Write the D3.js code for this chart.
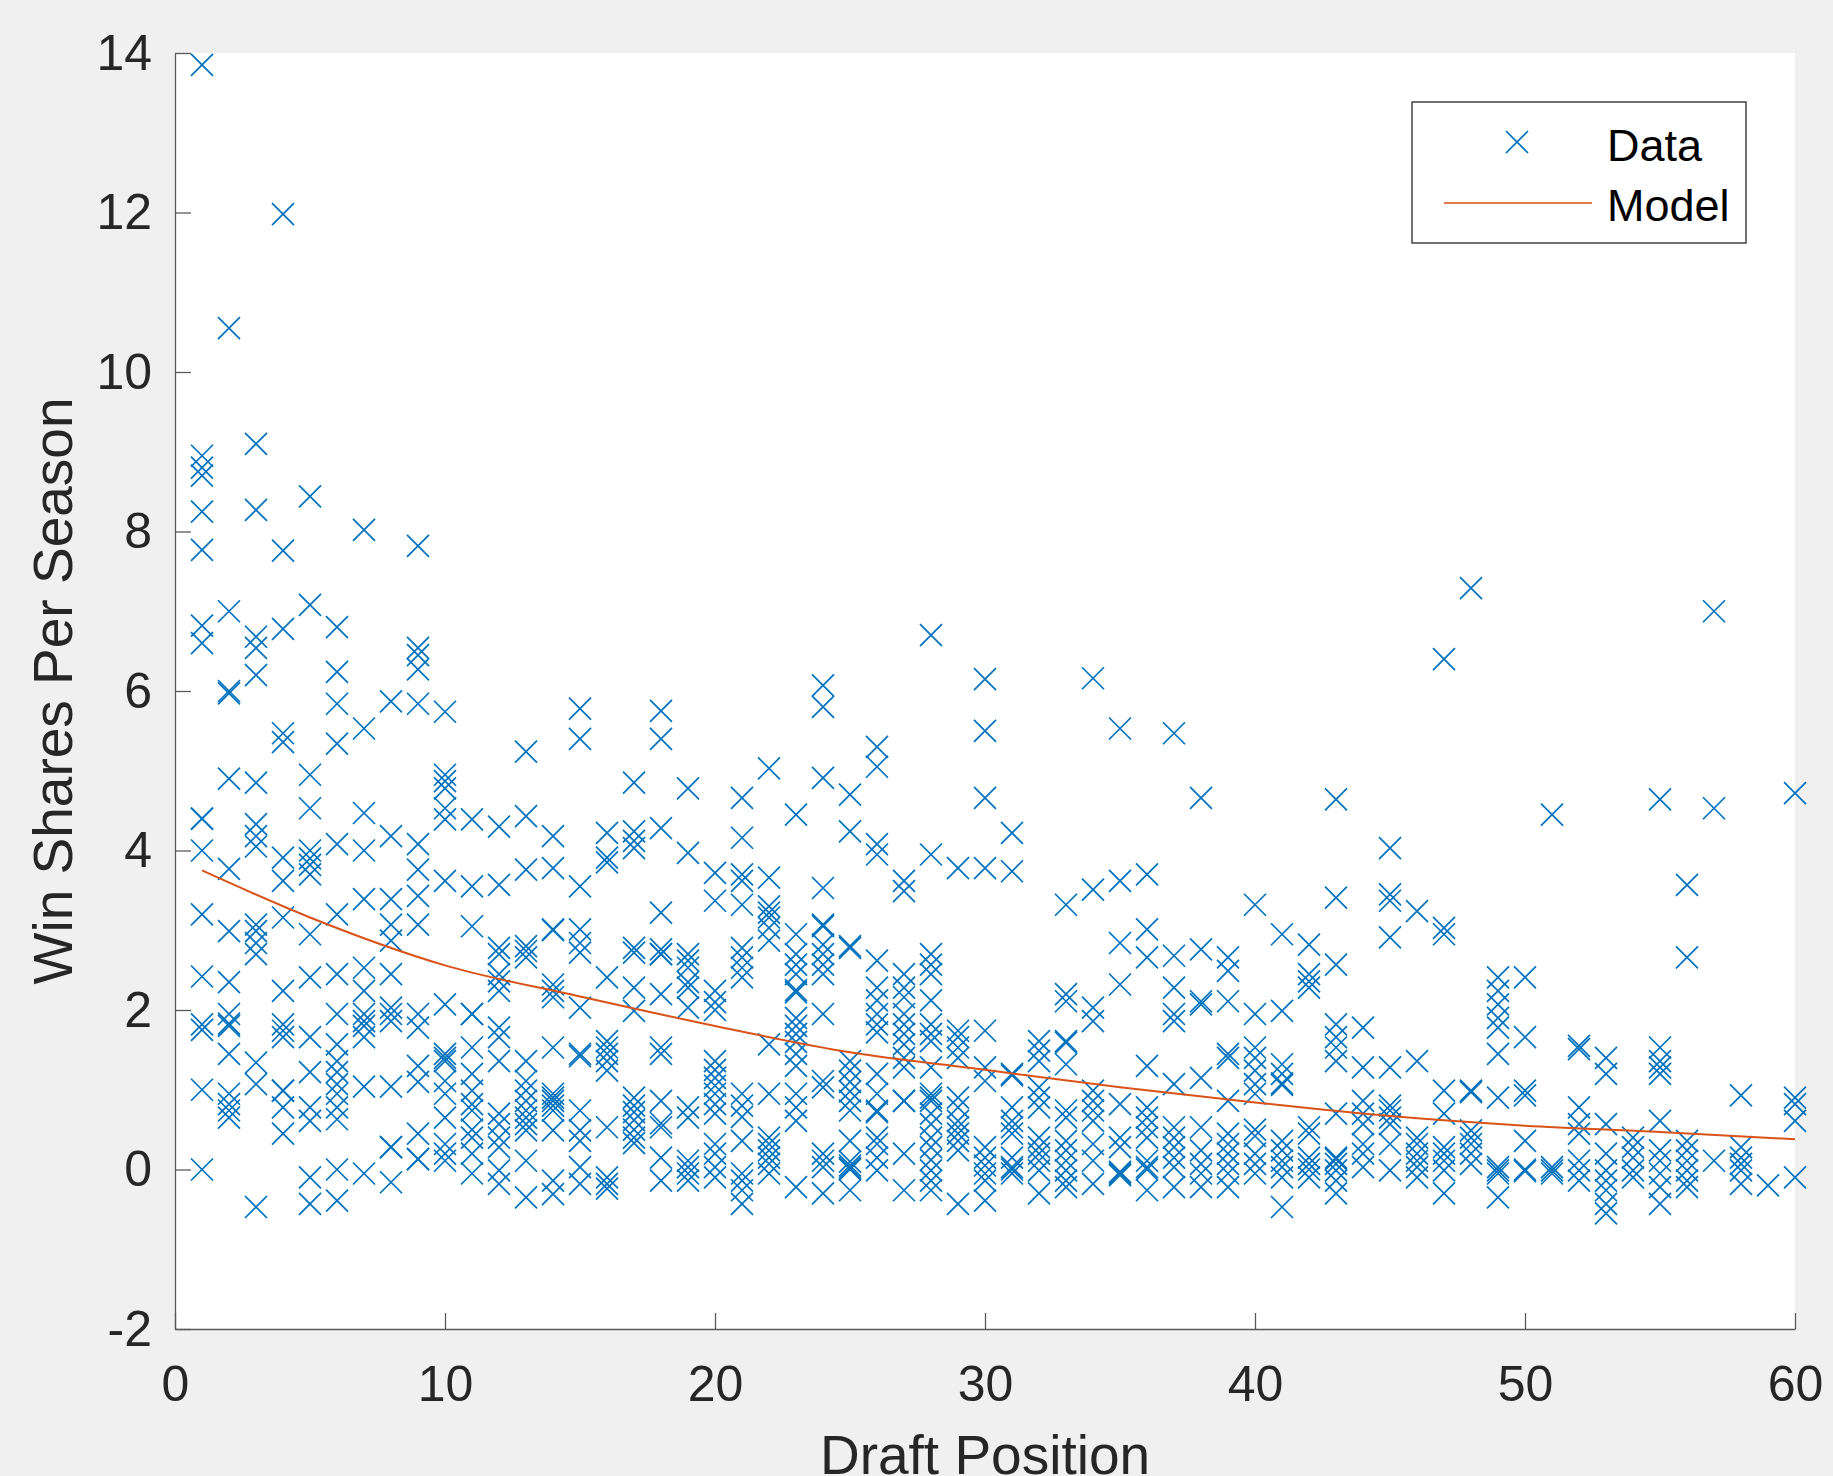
<!DOCTYPE html>
<html>
<head>
<meta charset="utf-8">
<script src="https://cdn.jsdelivr.net/npm/d3@7"></script>
<style>
  html, body { margin: 0; padding: 0; background: #f0f0f0; }
  svg { display: block; }
  text { font-family: "Liberation Sans", Arial, Helvetica, sans-serif; }
</style>
</head>
<body>
<div id="chart"></div>
<script>
// win shares per season, one list per draft pick
const picks1to10 = [
  [13.85, 8.95, 8.8, 8.7, 8.25, 7.77, 6.82, 6.6, 4.4, 4.4, 4.0, 3.2, 2.42, 1.82, 1.75, 1.0, 0.0],
  [10.55, 7.0, 6.0, 5.97, 4.9, 3.77, 2.99, 2.35, 1.95, 1.83, 1.8, 1.45, 0.95, 0.82, 0.74, 0.65],
  [9.1, 8.27, 6.68, 6.54, 6.2, 4.85, 4.33, 4.18, 4.05, 3.07, 2.99, 2.84, 2.7, 1.34, 1.07, -0.47],
  [11.98, 7.76, 6.78, 5.47, 5.36, 3.91, 3.62, 3.16, 2.24, 1.82, 1.74, 1.66, 0.99, 0.99, 0.78, 0.45],
  [8.44, 7.08, 4.95, 4.53, 4.0, 3.9, 3.82, 3.7, 2.95, 2.41, 1.66, 1.22, 0.78, 0.61, -0.1, -0.43],
  [6.8, 6.24, 5.84, 5.34, 4.08, 3.2, 2.45, 1.95, 1.57, 1.36, 1.22, 1.07, 0.95, 0.78, 0.63, 0.0, -0.39],
  [8.02, 5.53, 4.47, 4.0, 3.39, 2.53, 2.24, 1.95, 1.86, 1.8, 1.66, 1.04, -0.05],
  [5.87, 4.18, 3.39, 3.07, 2.87, 2.45, 2.03, 1.95, 1.86, 1.04, 0.28, 0.28, -0.16],
  [7.82, 6.54, 6.45, 6.27, 5.84, 4.08, 3.76, 3.43, 3.07, 1.95, 1.78, 1.3, 1.1, 0.45, 0.13, 0.13],
  [5.74, 4.95, 4.87, 4.78, 4.53, 4.39, 3.62, 2.07, 1.45, 1.4, 1.36, 1.11, 0.95, 0.65, 0.32, 0.2, 0.11]
];
const picks11to20 = [
  [4.39, 3.55, 3.05, 1.95, 1.95, 1.53, 1.2, 0.99, 0.82, 0.74, 0.5, 0.4, 0.2, -0.05],
  [4.3, 3.57, 2.78, 2.7, 2.45, 2.36, 2.24, 1.78, 1.66, 1.36, 0.7, 0.57, 0.4, 0.28, -0.01, -0.18],
  [5.24, 4.43, 3.76, 2.8, 2.74, 2.66, 1.36, 1.11, 0.99, 0.86, 0.74, 0.65, 0.57, 0.49, 0.11, -0.35],
  [4.18, 3.78, 3.01, 3.0, 2.32, 2.24, 2.16, 1.53, 0.95, 0.9, 0.86, 0.8, 0.74, 0.49, -0.14, -0.31],
  [5.78, 5.4, 3.55, 3.01, 2.84, 2.72, 2.03, 1.45, 1.42, 0.74, 0.49, 0.36, 0.03, -0.18],
  [4.22, 3.91, 3.85, 2.41, 1.61, 1.53, 1.45, 1.36, 1.24, 0.53, -0.1, -0.18, -0.24],
  [4.85, 4.24, 4.12, 4.03, 2.78, 2.72, 2.28, 1.99, 0.9, 0.8, 0.72, 0.62, 0.5, 0.4, 0.33],
  [5.75, 5.4, 4.28, 3.22, 2.76, 2.7, 2.7, 2.2, 1.53, 1.45, 0.86, 0.58, 0.53, 0.15, -0.14],
  [4.78, 3.97, 2.7, 2.62, 2.53, 2.35, 2.28, 2.03, 0.78, 0.65, 0.11, 0.03, -0.05, -0.14],
  [3.72, 3.37, 2.24, 2.1, 2.0, 1.36, 1.25, 1.15, 1.05, 0.95, 0.82, 0.7, 0.32, 0.2, 0.03, -0.1]
];
const picks21to30 = [
  [4.66, 4.16, 3.7, 3.62, 3.32, 2.78, 2.66, 2.53, 2.41, 0.95, 0.8, 0.66, 0.36, -0.05, -0.14, -0.26, -0.43],
  [5.03, 3.66, 3.3, 3.22, 3.16, 3.03, 2.87, 1.57, 0.95, 0.4, 0.32, 0.24, 0.15, 0.07, -0.05],
  [4.45, 2.95, 2.7, 2.57, 2.45, 2.25, 2.22, 1.9, 1.8, 1.7, 1.6, 1.45, 1.3, 0.95, 0.78, 0.61, -0.22],
  [6.07, 5.8, 4.91, 3.53, 3.07, 3.05, 2.82, 2.7, 2.57, 2.45, 1.95, 1.11, 1.03, 0.2, 0.11, 0.03, -0.3],
  [4.7, 4.24, 2.8, 2.78, 1.36, 1.24, 1.1, 0.98, 0.86, 0.74, 0.36, 0.1, 0.05, 0.02, 0.0, -0.26],
  [5.3, 5.05, 4.08, 3.95, 2.62, 2.28, 2.12, 1.95, 1.82, 1.72, 1.2, 0.95, 0.74, 0.72, 0.4, 0.32, 0.15, -0.01],
  [3.62, 3.49, 2.45, 2.28, 2.16, 1.95, 1.82, 1.7, 1.57, 1.4, 1.28, 0.86, 0.86, 0.2, -0.26],
  [6.7, 3.95, 2.7, 2.57, 2.45, 2.12, 1.82, 1.7, 1.61, 1.28, 0.95, 0.9, 0.86, 0.7, 0.57, 0.4, 0.28, 0.12, -0.01, -0.14, -0.26],
  [3.78, 1.74, 1.66, 1.53, 1.4, 0.9, 0.78, 0.61, 0.53, 0.45, 0.36, 0.24, -0.43],
  [6.15, 5.5, 4.66, 3.78, 1.74, 1.28, 1.11, 0.28, 0.15, 0.05, -0.05, -0.14, -0.39]
];
const picks31to40 = [
  [4.22, 3.74, 1.2, 1.18, 0.78, 0.61, 0.53, 0.45, 0.15, 0.03, 0.0, -0.05],
  [1.61, 1.49, 1.36, 1.03, 0.9, 0.78, 0.4, 0.28, 0.2, 0.11, -0.01, -0.3],
  [3.32, 2.2, 2.11, 1.61, 1.59, 1.32, 0.74, 0.65, 0.36, 0.24, 0.11, -0.01, -0.14, -0.22],
  [6.16, 3.51, 2.03, 1.86, 0.99, 0.86, 0.74, 0.61, 0.32, 0.11, -0.18],
  [5.53, 3.62, 2.84, 2.32, 0.82, 0.4, 0.28, -0.03, -0.05, -0.07],
  [3.7, 3.01, 2.66, 1.3, 0.78, 0.65, 0.53, 0.4, 0.11, 0.03, 0.0, -0.26],
  [5.47, 2.68, 2.28, 1.95, 1.86, 1.07, 0.53, 0.4, 0.28, 0.15, 0.03, -0.22],
  [4.66, 2.76, 2.11, 2.07, 1.15, 0.53, 0.24, 0.07, -0.05, -0.22],
  [2.66, 2.49, 2.11, 1.45, 1.4, 0.86, 0.45, 0.32, 0.2, 0.07, -0.05, -0.22],
  [3.32, 1.95, 1.53, 1.4, 1.24, 1.07, 0.95, 0.5, 0.42, 0.2, 0.07, -0.05]
];
const picks41to50 = [
  [2.95, 1.99, 1.32, 1.2, 1.08, 1.06, 0.36, 0.24, 0.11, 0.03, -0.1, -0.47],
  [2.82, 2.45, 2.36, 2.28, 0.53, 0.45, 0.15, 0.07, 0.0, -0.1],
  [4.64, 3.41, 2.57, 1.82, 1.66, 1.53, 1.36, 0.7, 0.15, 0.13, 0.07, -0.01, -0.14, -0.3],
  [1.78, 1.28, 0.86, 0.7, 0.57, 0.32, 0.2, 0.03],
  [4.03, 3.45, 3.37, 2.91, 1.28, 0.8, 0.74, 0.65, 0.57, 0.32, -0.01],
  [3.24, 1.36, 0.4, 0.32, 0.2, 0.11, 0.03, -0.1],
  [6.4, 3.03, 2.95, 0.99, 0.7, 0.28, 0.2, 0.11, -0.01, -0.3],
  [7.29, 0.99, 0.97, 0.49, 0.4, 0.32, 0.2, 0.07],
  [2.41, 2.24, 2.07, 1.9, 1.78, 1.45, 0.9, 0.03, -0.01, -0.05, -0.35],
  [2.41, 1.66, 0.99, 0.93, 0.36, 0.0, -0.02]
];
const picks51to60 = [
  [4.45, 0.03, -0.01, -0.05],
  [1.55, 1.51, 0.78, 0.57, 0.45, 0.11, -0.01, -0.14],
  [1.4, 1.2, 0.57, 0.2, -0.01, -0.14, -0.26, -0.43, -0.55],
  [0.4, 0.28, 0.15, -0.01, -0.1],
  [4.64, 1.53, 1.36, 1.28, 1.2, 0.61, 0.24, 0.11, -0.05, -0.22, -0.43],
  [3.57, 2.66, 0.36, 0.24, 0.11, -0.01, -0.14, -0.22],
  [7.0, 4.53, 0.11],
  [0.93, 0.28, 0.15, 0.07, -0.01, -0.18],
  [-0.2],
  [4.72, 0.9, 0.82, 0.61, -0.1]
];

// fitted model curve, sampled off the figure
const modelPicks  = [1, 5, 10, 15, 20, 25, 30, 35, 40, 45, 50, 55, 60];
const modelValues = [3.75, 3.16, 2.56, 2.17, 1.8, 1.47, 1.25, 1.03, 0.84, 0.67, 0.55, 0.47, 0.38];

const xTicks = [0, 10, 20, 30, 40, 50, 60];
const yTicks = [-2, 0, 2, 4, 6, 8, 10, 12, 14];
const legendLabels = ['Data', 'Model'];

const dataColor = '#0072BD';
const modelColor = '#D95319';
const axisColor = '#262626';

const W = 1833, H = 1476;
const plot = { left: 175, right: 1795, top: 53, bottom: 1329 };

const points = [picks1to10, picks11to20, picks21to30, picks31to40, picks41to50, picks51to60]
  .flat()
  .flatMap((vals, i) => vals.map(v => ({ pick: i + 1, ws: v })));

const svg = d3.select('#chart').append('svg')
  .attr('width', W)
  .attr('height', H);

svg.append('rect')
  .attr('width', W).attr('height', H)
  .attr('fill', '#f0f0f0');

const x = d3.scaleLinear().domain([0, 60]).range([plot.left, plot.right]);
const y = d3.scaleLinear().domain([-2, 14]).range([plot.bottom, plot.top]);

// white axes area
svg.append('rect')
  .attr('x', plot.left).attr('y', plot.top)
  .attr('width', plot.right - plot.left)
  .attr('height', plot.bottom - plot.top)
  .attr('fill', '#ffffff');

// axes (ticks point inward, no box); plain hyphen for negatives like MATLAB
const plain = d => String(d);

const xAxis = svg.append('g')
  .attr('transform', `translate(0,${plot.bottom})`)
  .call(d3.axisBottom(x).tickValues(xTicks).tickFormat(plain)
    .tickSizeInner(-16).tickSizeOuter(0).tickPadding(36));

const yAxis = svg.append('g')
  .attr('transform', `translate(${plot.left},0)`)
  .call(d3.axisLeft(y).tickValues(yTicks).tickFormat(plain)
    .tickSizeInner(-16).tickSizeOuter(0).tickPadding(23));

[xAxis, yAxis].forEach(g => {
  g.select('.domain').attr('stroke', '#5a5a5a').attr('stroke-width', 1.3);
  g.selectAll('.tick line').attr('stroke', '#5a5a5a').attr('stroke-width', 1.3);
  g.selectAll('.tick text')
    .attr('fill', axisColor)
    .style('font-size', '50px')
    .style('font-family', '"Liberation Sans", Arial, sans-serif');
});

// data markers
const cross = 'M-11,-11L11,11M-11,11L11,-11';
svg.append('g')
  .selectAll('path')
  .data(points)
  .join('path')
  .attr('d', cross)
  .attr('transform', d => `translate(${x(d.pick)},${y(d.ws)})`)
  .attr('fill', 'none')
  .attr('stroke', dataColor)
  .attr('stroke-width', 1.7);

// model line
const line = d3.line()
  .x((d, i) => x(modelPicks[i]))
  .y(d => y(d))
  .curve(d3.curveMonotoneX);

svg.append('path')
  .datum(modelValues)
  .attr('d', line)
  .attr('fill', 'none')
  .attr('stroke', modelColor)
  .attr('stroke-width', 2);

// axis labels
svg.append('text')
  .attr('x', (plot.left + plot.right) / 2)
  .attr('y', 1474)
  .attr('text-anchor', 'middle')
  .attr('fill', axisColor)
  .style('font-size', '55px')
  .text('Draft Position');

svg.append('text')
  .attr('transform', `translate(72,${(plot.top + plot.bottom) / 2}) rotate(-90)`)
  .attr('text-anchor', 'middle')
  .attr('fill', axisColor)
  .style('font-size', '55px')
  .text('Win Shares Per Season');

// legend
const legend = svg.append('g');
legend.append('rect')
  .attr('x', 1412).attr('y', 102)
  .attr('width', 334).attr('height', 141)
  .attr('fill', '#ffffff')
  .attr('stroke', '#262626')
  .attr('stroke-width', 1.3);

legend.append('path')
  .attr('d', cross)
  .attr('transform', 'translate(1517,142)')
  .attr('fill', 'none')
  .attr('stroke', dataColor)
  .attr('stroke-width', 1.7);

legend.append('line')
  .attr('x1', 1444).attr('x2', 1592)
  .attr('y1', 203).attr('y2', 203)
  .attr('stroke', modelColor)
  .attr('stroke-width', 1.5);

legend.selectAll('text.lbl')
  .data(legendLabels)
  .join('text')
  .attr('class', 'lbl')
  .attr('x', 1607)
  .attr('y', (d, i) => 161 + i * 60)
  .attr('fill', '#000')
  .style('font-size', '45px')
  .text(d => d);
</script>
</body>
</html>
